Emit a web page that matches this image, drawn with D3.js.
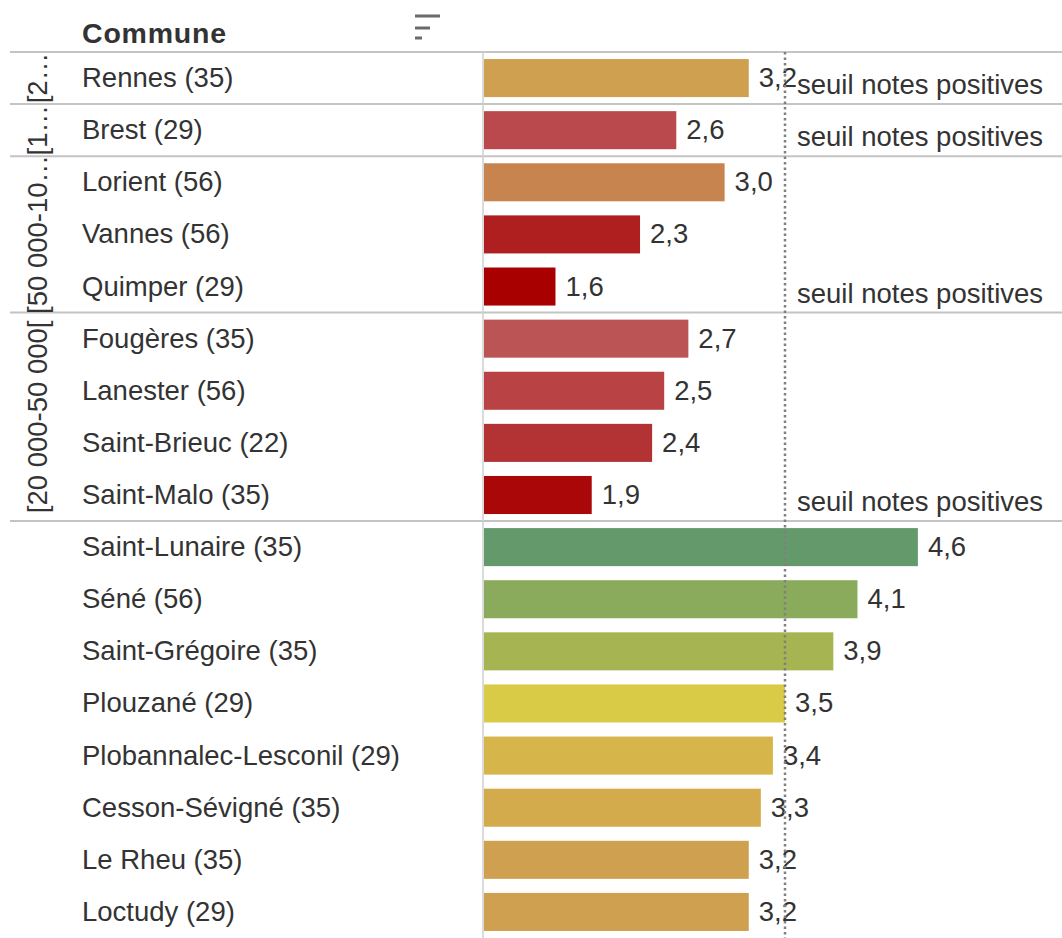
<!DOCTYPE html>
<html>
<head>
<meta charset="utf-8">
<script src="https://cdn.jsdelivr.net/npm/d3@7/dist/d3.min.js"></script>
<style>
  html, body { margin: 0; padding: 0; background: #fff; }
  svg { display: block; }
  text { font-family: "Liberation Sans", Arial, sans-serif; fill: #333; }
</style>
</head>
<body>
<svg id="chart" width="1062" height="938"></svg>
<script>
// ---- data ----
const groupLabels = ["[2…", "[1…", "[50 000-10…", "[20 000-50 000[", ""];
const communes = [
  "Rennes (35)", "Brest (29)", "Lorient (56)", "Vannes (56)", "Quimper (29)",
  "Fougères (35)", "Lanester (56)", "Saint-Brieuc (22)", "Saint-Malo (35)",
  "Saint-Lunaire (35)", "Séné (56)", "Saint-Grégoire (35)", "Plouzané (29)",
  "Plobannalec-Lesconil (29)", "Cesson-Sévigné (35)", "Le Rheu (35)", "Loctudy (29)"
];
const groupIndex = [0, 1, 2, 2, 2, 3, 3, 3, 3, 4, 4, 4, 4, 4, 4, 4, 4];
const notes = [3.2, 2.6, 3.0, 2.3, 1.6, 2.7, 2.5, 2.4, 1.9, 4.6, 4.1, 3.9, 3.5, 3.4, 3.3, 3.2, 3.2];
const seuil = 3.5;
const seuilLabel = "seuil notes positives";
const headerLabel = "Commune";
const axisDomain = [1, 5];

// ---- layout ----
const W = 1062;
const plotTop = 52, plotBottom = 938;
const axisLeft = 483;
const fs = 27.5;

const svg = d3.select("#chart");

const x = d3.scaleLinear().domain(axisDomain).range([axisLeft, axisLeft + 4 * 120.8]);
const y = d3.scaleBand().domain(d3.range(communes.length)).range([plotTop, plotBottom])
  .paddingInner(0.27).paddingOuter(0.135);
const step = y.step();
const rowTop = i => plotTop + i * step;

const color = d3.scaleLinear()
  .domain([1.6, 1.9, 2.3, 2.4, 2.5, 2.6, 2.7, 3.0, 3.2, 3.4, 3.5, 3.9, 4.1, 4.6])
  .range(["#a80000", "#aa0808", "#b01f20", "#b33334", "#b84244", "#b9494d", "#bb5555",
          "#c8844f", "#cfa050", "#d6b64a", "#d9cb46", "#a6b551", "#8aab5c", "#64996b"])
  .clamp(true);

// groups (panes)
const groups = groupLabels.map((g, k) => {
  const idx = d3.range(communes.length).filter(i => groupIndex[i] === k);
  return { label: g, first: d3.min(idx), last: d3.max(idx) };
});

// separators
svg.append("line").attr("x1", 10).attr("x2", W).attr("y1", plotTop).attr("y2", plotTop)
  .attr("stroke", "#c4c4c4").attr("stroke-width", 2);
groups.slice(1).forEach(g => {
  const yy = rowTop(g.first);
  svg.append("line").attr("x1", 10).attr("x2", W).attr("y1", yy).attr("y2", yy)
    .attr("stroke", "#c4c4c4").attr("stroke-width", 2);
});

// header
svg.append("text").attr("x", 82).attr("y", 43).attr("font-size", 28.5).attr("font-weight", "bold")
  .attr("letter-spacing", 0.8).style("fill", "#333").text(headerLabel);
// sort icon
[[415, 440, 16], [415, 430, 28], [415, 422, 38]].forEach(d => {
  svg.append("line").attr("x1", d[0]).attr("x2", d[1]).attr("y1", d[2]).attr("y2", d[2])
    .attr("stroke", "#6a6a6a").attr("stroke-width", 3);
});

// group labels
groups.forEach(g => {
  const cy = (rowTop(g.first) + rowTop(g.last + 1)) / 2;
  svg.append("text")
    .attr("transform", `translate(47,${cy}) rotate(-90)`)
    .attr("text-anchor", "middle").attr("font-size", fs)
    .text(g.label);
});

// commune labels
svg.append("g").selectAll("text").data(communes).join("text")
  .attr("x", 82).attr("y", (d, i) => y(i) + y.bandwidth() / 2 + 9)
  .attr("font-size", fs).text(d => d);

// axis line
svg.append("line").attr("x1", axisLeft).attr("x2", axisLeft).attr("y1", plotTop).attr("y2", plotBottom)
  .attr("stroke", "#cfcfcf").attr("stroke-width", 1.5);

// bars
svg.append("g").selectAll("rect").data(notes).join("rect")
  .attr("x", x(axisDomain[0]) + 1)
  .attr("y", (d, i) => y(i))
  .attr("width", d => x(d) - x(axisDomain[0]) - 1)
  .attr("height", y.bandwidth())
  .attr("fill", d => color(d));

// value labels
const fmt = v => d3.format(".1f")(v).replace(".", ",");
svg.append("g").selectAll("text").data(notes).join("text")
  .attr("x", d => x(d) + 10)
  .attr("y", (d, i) => y(i) + y.bandwidth() / 2 + 9)
  .attr("font-size", fs).text(d => fmt(d));

// reference line
svg.append("line").attr("x1", x(seuil)).attr("x2", x(seuil)).attr("y1", plotTop).attr("y2", plotBottom)
  .attr("stroke", "#808080").attr("stroke-width", 2.5).attr("stroke-dasharray", "2.5,3");

// reference labels (bottom of each closed pane)
groups.filter(g => g.label !== "").forEach(g => {
  svg.append("text").attr("x", x(seuil) + 12).attr("y", rowTop(g.last + 1) - 10)
    .attr("font-size", fs).text(seuilLabel);
});
</script>
</body>
</html>
